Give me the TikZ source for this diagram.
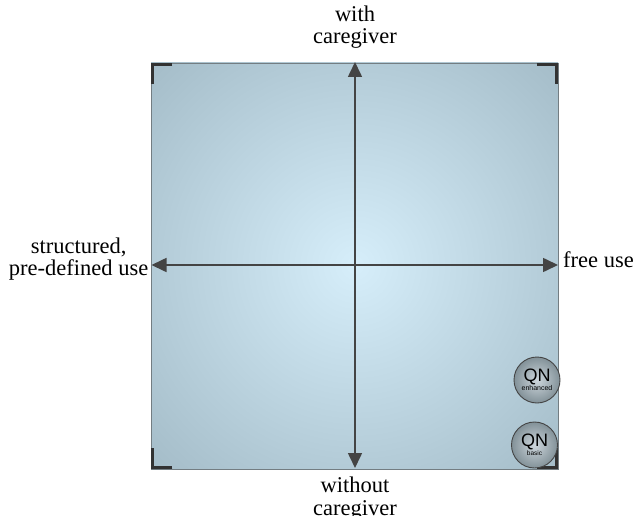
\documentclass[tikz,border=0pt]{standalone}
\usepackage{fontspec}
\setmainfont{Liberation Serif}
\newfontfamily\qnfont{Liberation Sans}
\usetikzlibrary{arrows.meta,positioning,calc}
\definecolor{bgcenter}{RGB}{214,238,250}
\definecolor{bgedge}{RGB}{162,186,198}
\definecolor{axisgray}{RGB}{68,68,68}
\definecolor{framegray}{RGB}{115,125,130}
\definecolor{bracketdark}{RGB}{50,50,50}
\definecolor{ballin}{RGB}{205,214,220}
\definecolor{ballout}{RGB}{130,145,152}
\tikzset{
  axisline/.style={axisgray, line width=1.6pt,
    {Triangle[length=15pt,width=14pt]}-{Triangle[length=15pt,width=14pt]}},
  lbl/.style={font=\fontsize{22.5}{22.5}\selectfont, align=center, inner sep=0pt},
  cornermark/.style={bracketdark, line width=2.6pt},
  qnball/.style={circle, draw=axisgray, line width=0.9pt, minimum size=46pt,
    inner sep=0pt, inner color=ballin, outer color=ballout, align=center,
    font=\qnfont\fontsize{18}{14}\selectfont},
}

\begin{document}
\begin{tikzpicture}[x=1pt,y=-1pt]
  \useasboundingbox (0,0) rectangle (642,516);
  \coordinate (nw) at (151,63);
  \coordinate (se) at (558,469);
  \coordinate (mid) at (355,265);
  % shaded field
  \begin{scope}
    \clip (nw) rectangle (se);
    \shade[inner color=bgcenter, outer color=bgedge] (mid) circle (300);
  \end{scope}
  \draw[framegray, line width=0.8pt] (nw) rectangle (se);
  % corner marks
  \foreach \cx/\cy/\dx/\dy in {152.3/64.3/1/1, 556.7/64.3/-1/1, 152.3/467.7/1/-1, 556.7/467.7/-1/-1}
    \draw[cornermark] (\cx+\dx*20,\cy) -- (\cx,\cy) -- (\cx,\cy+\dy*20);
  % axis ends
  \coordinate (topend) at (355,62);
  \coordinate (botend) at (355,468);
  \coordinate (leftend) at (151.5,265);
  \coordinate (rightend) at (558,265);
  \draw[axisline] (botend) -- (topend);
  \draw[axisline] (leftend) -- (rightend);
  % labels
  \node[lbl, anchor=south] (withlbl) at ([yshift=13pt]topend) {with\\caregiver};
  \node[lbl, anchor=north] (withoutlbl) at ([yshift=-9pt]botend) {without\\caregiver};
  \node[lbl, anchor=east] (structlbl) at ([xshift=-3pt,yshift=6pt]leftend) {structured,\\pre-defined use};
  \node[lbl, anchor=base west] (freelbl) at ([xshift=5pt,yshift=-2pt]rightend) {free use};
  % QN balls
  \node[qnball] (qnenh) at (537,380) {QN\\[-5pt]{\fontsize{7}{8}\selectfont enhanced}};
  \node[qnball] (qnbas) at (534.5,445) {QN\\[-5pt]{\fontsize{6.5}{8}\selectfont basic}};
\end{tikzpicture}
\end{document}
